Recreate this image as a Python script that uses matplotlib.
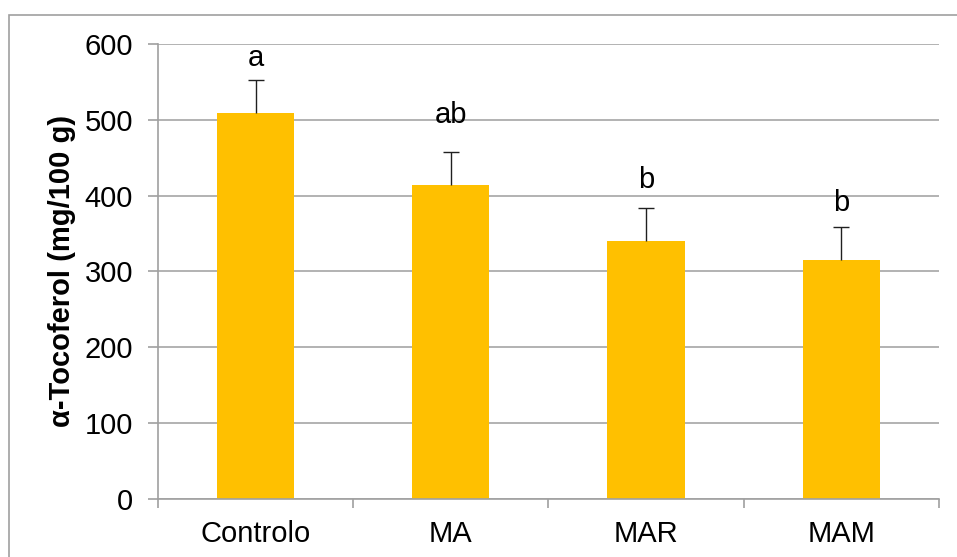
import matplotlib.pyplot as plt
from matplotlib.patches import Rectangle
from matplotlib.ticker import FixedLocator

# Tocopherol content per treatment (mean, SD) and significance letters
groups = ['Controlo', 'MA', 'MAR', 'MAM']
tocoferol = [509, 414, 340, 315]
desvio = [44, 44, 43, 44]
letras = ['a', 'ab', 'b', 'b']
letras_y = [582, 506, 421, 390]  # height of each letter (data units)

plt.rcParams['font.family'] = ['Liberation Sans', 'DejaVu Sans']

fig = plt.figure(figsize=(9.57, 5.57), dpi=100)
ax = fig.add_axes([0.165, 0.1046, 0.816, 0.8164])

# Outer chart frame
fig.patches.append(Rectangle((9 / 957, -0.1), 1.2, (557 - 15) / 557 + 0.1,
                             transform=fig.transFigure, fill=False,
                             edgecolor='#A0A0A0', linewidth=1.2))

x = range(len(groups))
ax.bar(x, tocoferol, width=0.395, color='#FFC000', zorder=2)
_, caps, _ = ax.errorbar(x, tocoferol, yerr=[[0] * len(desvio), desvio], fmt='none',
                         ecolor='#202020', elinewidth=1, capsize=6, capthick=1, zorder=3)
caps[0].set_visible(False)  # only the upper cap

for xi, yi, t in zip(x, letras_y, letras):
    ax.text(xi, yi, t, ha='center', va='center', fontsize=21)

ax.set_xlim(-0.5, len(groups) - 0.5)
ax.set_ylim(0, 600)
ax.set_yticks(range(0, 601, 100))
ax.set_xticks(list(x))
ax.set_xticklabels(groups, fontsize=21)
ax.xaxis.set_minor_locator(FixedLocator([i - 0.5 for i in range(len(groups) + 1)]))
ax.tick_params(axis='x', which='major', length=0, pad=15)
ax.tick_params(axis='x', which='minor', length=6.5, color='#A0A0A0', width=1.2)
ax.tick_params(axis='y', labelsize=21, length=7, color='#A0A0A0', width=1.2, pad=11)

ax.set_ylabel('α-Tocoferol (mg/100 g)', fontsize=21, fontweight='bold', labelpad=6)

ax.grid(axis='y', color='#A6A6A6', linewidth=1.2, zorder=0)
ax.set_axisbelow(True)
for side in ['top', 'right']:
    ax.spines[side].set_visible(False)
for side in ['left', 'bottom']:
    ax.spines[side].set_color('#A0A0A0')
    ax.spines[side].set_linewidth(1.2)

fig.savefig('out.png', dpi=100)
